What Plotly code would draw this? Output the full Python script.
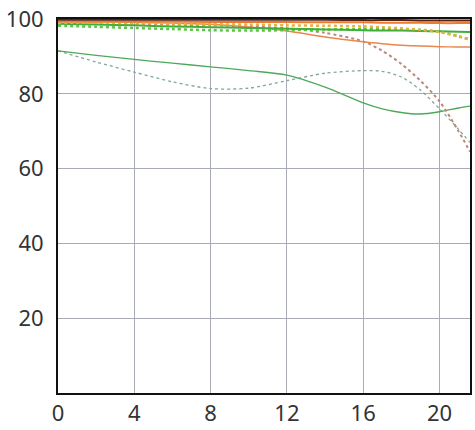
import plotly.graph_objects as go

x_pts = [0, 2, 4, 6, 8, 10, 12, 14, 16, 17, 18, 19, 20, 21, 21.6]

top_dark = [99.8, 99.8, 99.8, 99.8, 99.8, 99.8, 99.8, 99.8, 99.7, 99.7, 99.7, 99.6, 99.6, 99.6, 99.6]
top_orange = [99.3, 99.3, 99.3, 99.3, 99.2, 99.2, 99.2, 99.1, 99.1, 99.0, 99.0, 99.0, 98.9, 98.9, 98.9]
orange_dotted_hi = [99.0, 99.0, 98.9, 98.8, 98.6, 98.5, 98.3, 98.2, 98.0, 97.8, 97.5, 97.1, 96.5, 95.3, 94.5]
orange_solid_dec = [99.3, 99.2, 99.1, 98.9, 98.6, 97.9, 96.8, 95.2, 93.9, 93.4, 93.0, 92.8, 92.6, 92.5, 92.5]
pink_dotted = [99.0, 98.9, 98.7, 98.5, 98.3, 98.0, 97.5, 96.3, 94.0, 91.5, 88.0, 83.5, 78.0, 70.0, 64.5]
green_solid_hi = [98.7, 98.5, 98.3, 98.0, 97.8, 97.6, 97.4, 97.2, 97.0, 96.9, 96.9, 96.8, 96.7, 96.6, 96.5]
green_dotted_hi = [98.2, 97.9, 97.6, 97.3, 97.0, 96.9, 97.0, 97.2, 97.3, 97.3, 97.3, 97.1, 96.6, 95.4, 94.5]
green_solid_lo = [91.5, 90.3, 89.2, 88.2, 87.2, 86.2, 85.0, 81.8, 77.6, 76.0, 75.0, 74.6, 75.2, 76.2, 76.7]
green_dashed_lo = [91.5, 88.5, 85.8, 83.2, 81.4, 81.5, 83.5, 85.5, 86.2, 86.0, 84.5, 81.0, 76.0, 70.5, 67.0]

x_ticks = [0, 4, 8, 12, 16, 20]
y_ticks = [20, 40, 60, 80, 100]

series = [
    (green_dashed_lo, "#7fa897", "dot", 1.3),
    (green_solid_lo, "#4ea85a", "solid", 1.3),
    (pink_dotted, "#b88a78", "dot", 2),
    (orange_solid_dec, "#e8874f", "solid", 1.4),
    (green_dotted_hi, "#5cc545", "dot", 2.5),
    (green_solid_hi, "#3fae3a", "solid", 2),
    (orange_dotted_hi, "#e8b040", "dot", 2.5),
    (top_orange, "#ee7a30", "solid", 2),
    (top_dark, "#5a2414", "solid", 2),
]

fig = go.Figure()
for vals, color, dash, w in series:
    fig.add_trace(go.Scatter(
        x=x_pts, y=vals, mode="lines",
        line=dict(color=color, dash=dash, width=w, shape="spline", smoothing=0.8),
        showlegend=False, hoverinfo="skip",
    ))

axis_common = dict(
    showline=True, linecolor="#111111", linewidth=2, mirror=True,
    showgrid=True, gridcolor="#a8abb4", gridwidth=1,
    zeroline=False, ticks="", ticklabeloverflow="allow",
    tickfont=dict(family="Noto Sans", size=22, color="#333333"),
)

fig.update_layout(
    width=475, height=430,
    margin=dict(l=58, r=3, t=11, b=34),
    paper_bgcolor="white", plot_bgcolor="white",
    xaxis=dict(range=[0, 21.6], tickvals=x_ticks, ticktext=[str(v) for v in x_ticks], **axis_common),
    yaxis=dict(range=[0, 100], tickvals=y_ticks, ticktext=[str(v) for v in y_ticks], ticklabelstandoff=8, **axis_common),
)

fig.write_html(
    "out.html",
    config={"displayModeBar": False},
    post_script="document.body.style.margin='0';document.body.style.overflow='hidden';",
)
